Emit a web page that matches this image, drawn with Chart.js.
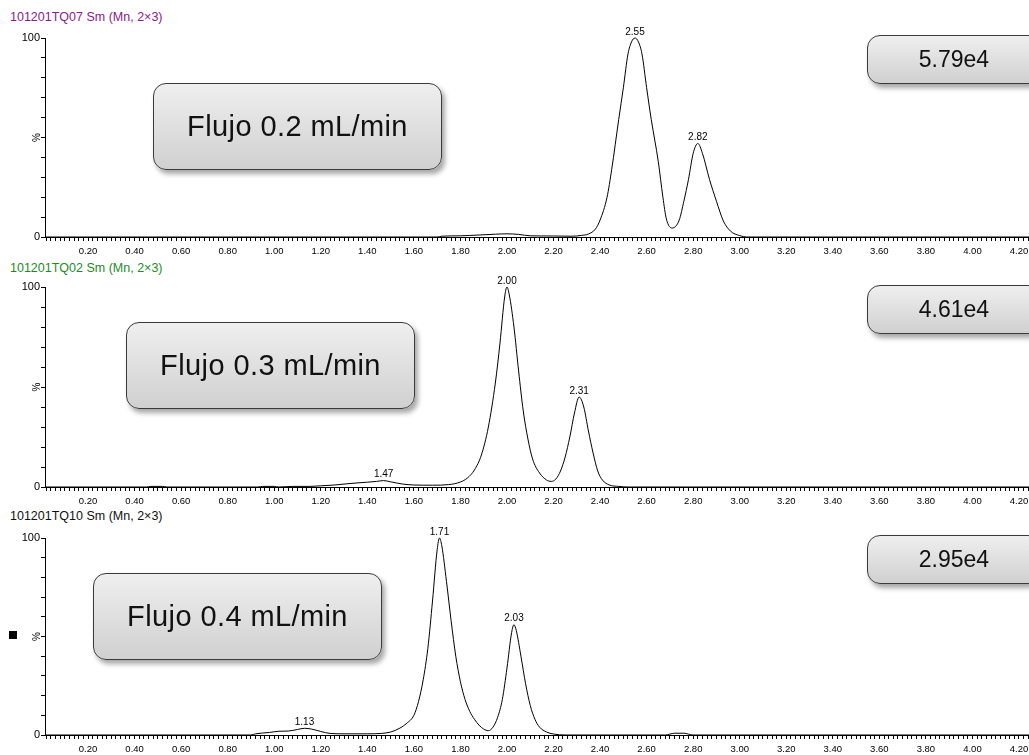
<!DOCTYPE html>
<html>
<head>
<meta charset="utf-8">
<script src="https://cdn.jsdelivr.net/npm/chart.js@4.4.0/dist/chart.umd.min.js"></script>
<style>
  body { margin: 0; width: 1029px; height: 755px; overflow: hidden; position: relative; background: #fff; font-family: "Liberation Sans", Arial, sans-serif; }
  canvas { position: absolute; left: 0; }
  .hdr { position: absolute; left: 10px; font-size: 12.5px; line-height: 12px; white-space: nowrap; }
  .box { position: absolute; box-sizing: border-box; border: 1.5px solid #3a3a3a; border-radius: 13px;
         background: linear-gradient(to bottom, #efefef, #d0d0d0); box-shadow: 3px 4px 5px rgba(0,0,0,0.35);
         display: flex; align-items: center; justify-content: center; color: #111; }
  .flow { width: 289px; height: 87px; font-size: 29px; letter-spacing: 0.4px; }
  .val { width: 174px; height: 49px; font-size: 23px; left: 867px; }
</style>
</head>
<body>
<div class="hdr" style="top:11px; color:#8a1a8f">101201TQ07 Sm (Mn, 2×3)</div>
<div class="hdr" style="top:262px; color:#1f8a1f">101201TQ02 Sm (Mn, 2×3)</div>
<div class="hdr" style="top:510px; color:#111">101201TQ10 Sm (Mn, 2×3)</div>

<canvas id="c1" width="1029" height="259" style="top:0px"></canvas>
<canvas id="c2" width="1029" height="259" style="top:250px"></canvas>
<canvas id="c3" width="1029" height="257" style="top:500px"></canvas>

<div class="box flow" style="left:153px; top:83px">Flujo 0.2 mL/min</div>
<div class="box flow" style="left:126px; top:322px">Flujo 0.3 mL/min</div>
<div class="box flow" style="left:93px; top:573px">Flujo 0.4 mL/min</div>
<div class="box val" style="top:35px">5.79e4</div>
<div class="box val" style="top:285px">4.61e4</div>
<div class="box val" style="top:535px">2.95e4</div>
<div style="position:absolute; left:9px; top:631px; width:8px; height:8px; background:#000"></div>

<script>
// retention time (min), intensity (%)
const flow02 = [[0.015,0],[1.70,0],[1.72,0.4],[1.80,0.6],[1.88,1.0],[1.95,1.4],[2.00,1.6],[2.05,1.3],[2.10,0.6],[2.20,0.5],[2.28,0.4],
  [2.32,0.8],[2.35,1.5],[2.38,4],[2.40,8.5],[2.43,20],[2.45,34],[2.48,59],[2.50,75],[2.52,92],[2.535,98],[2.55,100],[2.565,98],
  [2.58,92],[2.60,75],[2.62,59],[2.65,38],[2.67,20],[2.685,9],[2.71,4.5],[2.74,8.5],[2.76,18],[2.78,29],[2.80,42],[2.82,47],
  [2.84,42],[2.87,29],[2.90,18],[2.93,8],[2.96,3],[3.00,0.7],[3.03,0],[4.25,0]];
const flow03 = [[0.015,0],[0.45,0],[0.47,0.3],[0.52,0.3],[0.54,0],[0.93,0],[0.95,0.3],[1.00,0.3],[1.02,0],[1.08,0.3],[1.15,0.3],
  [1.20,0.6],[1.26,1.0],[1.33,1.8],[1.40,2.4],[1.44,2.8],[1.47,3.2],[1.50,2.6],[1.55,1.5],[1.60,1.0],[1.68,0.9],[1.75,1.2],
  [1.80,2.5],[1.83,4.5],[1.86,8.5],[1.89,16],[1.92,30],[1.95,52],[1.97,72],[1.99,95],[2.00,100],[2.01,96],[2.03,80],[2.05,58],
  [2.07,38],[2.09,24],[2.11,14],[2.14,7],[2.17,3.5],[2.19,2.8],[2.21,4],[2.23,8],[2.25,15],[2.27,25],[2.29,37],[2.31,45],
  [2.33,40],[2.35,28],[2.37,17],[2.39,8],[2.41,3.5],[2.44,1],[2.48,0.3],[2.52,0],[4.25,0]];
const flow04 = [[0.015,0],[0.90,0],[0.92,0.6],[0.98,1.3],[1.02,1.9],[1.06,2.0],[1.10,2.8],[1.13,3.4],[1.16,3.0],[1.20,1.8],
  [1.24,0.8],[1.30,0.6],[1.40,0.6],[1.46,0.8],[1.50,1.5],[1.54,3.5],[1.57,6],[1.60,10],[1.62,17],[1.64,28],[1.66,44],[1.68,68],
  [1.70,94],[1.71,100],[1.72,96],[1.74,78],[1.76,58],[1.78,40],[1.80,27],[1.82,18],[1.84,12],[1.86,8],[1.88,5],[1.90,3],
  [1.92,2.2],[1.94,4],[1.96,9],[1.98,18],[2.00,34],[2.02,52],[2.03,56],[2.04,53],[2.06,40],[2.08,26],[2.10,15],[2.12,8],
  [2.14,4],[2.17,1.5],[2.20,0.5],[2.25,0],[2.68,0],[2.72,0.9],[2.76,0.9],[2.80,0],[4.25,0]];

const peaks02 = [2.55, 2.82];
const peaks03 = [1.47, 2.00, 2.31];
const peaks04 = [1.13, 1.71, 2.03];

const xMin = 0.015, xMax = 4.243;
const fam = '"Liberation Sans", Arial, sans-serif';

const peakLabels = {
  id: 'peakLabels',
  afterDatasetsDraw(chart, args, opts) {
    const ctx = chart.ctx, xs = chart.scales.x, ys = chart.scales.y;
    const pts = chart.data.datasets[0].data;
    ctx.save();
    ctx.font = '10px ' + fam;
    ctx.fillStyle = '#000';
    ctx.textAlign = 'center';
    ctx.textBaseline = 'bottom';
    opts.times.forEach(t => {
      let best = pts[0];
      pts.forEach(p => { if (Math.abs(p.x - t) < Math.abs(best.x - t)) best = p; });
      ctx.fillText(t.toFixed(2), xs.getPixelForValue(t), ys.getPixelForValue(best.y) - 1);
    });
    ctx.restore();
  }
};

function drawPanel(id, series, peaks, padTop) {
  new Chart(document.getElementById(id), {
    type: 'line',
    data: {
      datasets: [{
        data: series.map(p => ({x: p[0], y: p[1]})),
        borderColor: '#000',
        borderWidth: 1,
        pointRadius: 0,
        fill: false,
        cubicInterpolationMode: 'monotone',
        clip: 6
      }]
    },
    options: {
      responsive: false,
      animation: false,
      layout: { padding: { top: padTop, left: 0, right: 0, bottom: 0 } },
      plugins: { legend: { display: false }, tooltip: { enabled: false }, peakLabels: { times: peaks } },
      scales: {
        x: {
          type: 'linear', min: xMin, max: xMax,
          afterFit: s => { s.height = 22; s.paddingRight = 0; s.paddingLeft = 0; },
          border: { display: true, color: '#000', width: 1 },
          grid: { drawOnChartArea: false, drawTicks: true, tickLength: 4, color: '#000' },
          ticks: {
            stepSize: 0.02, autoSkip: false, includeBounds: false, maxRotation: 0, padding: 5,
            color: '#000', font: { size: 9.5, family: fam },
            callback: v => Math.abs(v * 5 - Math.round(v * 5)) < 1e-6 ? v.toFixed(2) : ''
          }
        },
        y: {
          min: 0, max: 100,
          afterFit: s => { s.width = 45; },
          border: { display: true, color: '#000', width: 1 },
          grid: { drawOnChartArea: false, drawTicks: true, tickLength: 4, color: '#000' },
          ticks: {
            stepSize: 10, autoSkip: false, padding: 1, color: '#000', font: { size: 11, family: fam },
            callback: v => (v === 100 || v === 0) ? String(v) : ''
          },
          title: { display: true, text: '%', color: '#000', font: { size: 10, family: fam }, padding: { top: 31, bottom: 0 } }
        }
      }
    },
    plugins: [peakLabels]
  });
}

drawPanel('c1', flow02, peaks02, 38);
drawPanel('c2', flow03, peaks03, 37);
drawPanel('c3', flow04, peaks04, 38);
</script>
</body>
</html>
